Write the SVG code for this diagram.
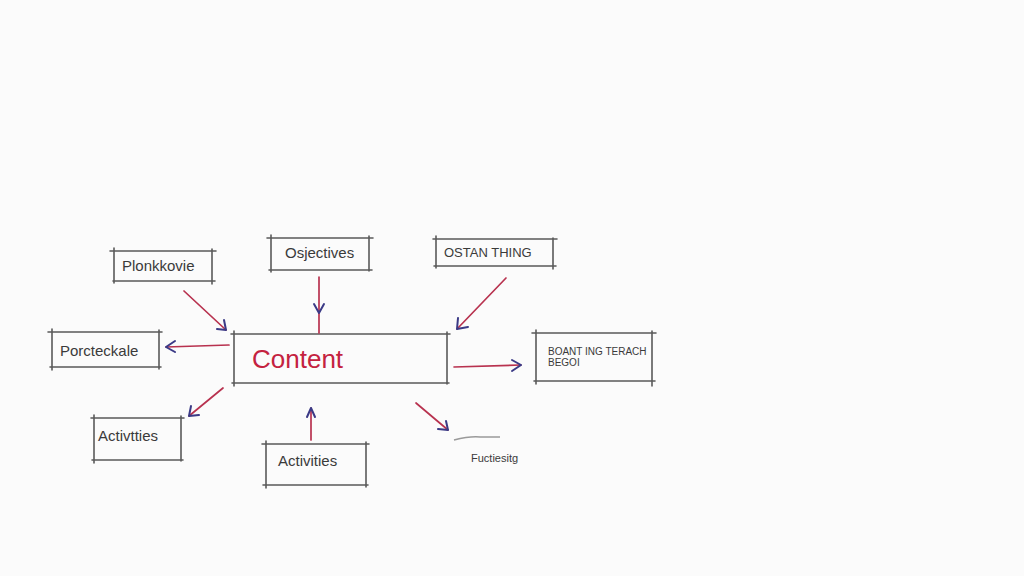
<svg xmlns="http://www.w3.org/2000/svg" width="1024" height="576" viewBox="0 0 1024 576">
<defs>
<style>
.box{fill:none;stroke:#5a5a5a;stroke-width:1.6;stroke-linecap:round}
.t{font-family:"Liberation Sans",Arial,sans-serif;fill:#3a3a3a}
.ln{fill:none;stroke:#b8324f;stroke-width:1.7;stroke-linecap:round}
.hd{fill:none;stroke:#3b3a86;stroke-width:2;stroke-linecap:round;stroke-linejoin:round}
</style>
</defs>
<rect width="1024" height="576" fill="#fbfbfb"/>
<g id="n-plonkkovie">
<path class="box" d="M110 251 H216 M113 281 H215 M114 248 V283 M212 249 V284"/>
<text class="t" x="122" y="271" font-size="15">Plonkkovie</text>
</g>
<g id="n-objectives">
<path class="box" d="M267 238 H373 M269 270 H372 M271 235 V272 M369 236 V271"/>
<text class="t" x="285" y="258" font-size="15">Osjectives</text>
</g>
<g id="n-ostan">
<path class="box" d="M433 239 H557 M434 266 H556 M436 236 V268 M553 238 V269"/>
<text class="t" x="444" y="257" font-size="13">OSTAN THING</text>
</g>
<g id="n-content">
<path class="box" d="M231 334 H450 M232 383 H449 M234 331 V386 M447 332 V384"/>
<text x="252" y="368" font-size="26" font-family="'Liberation Sans',Arial,sans-serif" fill="#c4223f">Content</text>
</g>
<g id="n-porcteckale">
<path class="box" d="M48 332 H162 M50 367 H161 M52 329 V370 M159 330 V369"/>
<text class="t" x="60" y="356" font-size="15">Porcteckale</text>
</g>
<g id="n-boant">
<path class="box" d="M532 333 H656 M534 381 H655 M536 330 V384 M652 331 V386"/>
<text class="t" x="548" y="355" font-size="10">BOANT ING TERACH</text>
<text class="t" x="548" y="366" font-size="10">BEGOI</text>
</g>
<g id="n-activtties">
<path class="box" d="M91 418 H184 M92 460 H183 M94 415 V463 M181 416 V461"/>
<text class="t" x="98" y="441" font-size="15">Activtties</text>
</g>
<g id="n-activities">
<path class="box" d="M262 444 H369 M263 485 H368 M266 441 V488 M366 442 V487"/>
<text class="t" x="278" y="466" font-size="15">Activities</text>
</g>
<g id="n-fuctiesitg">
<path d="M454 440 Q470 436 480 437 L500 437" fill="none" stroke="#9a9a9a" stroke-width="1.4"/>
<text class="t" x="471" y="462" font-size="11">Fuctiesitg</text>
</g>
<g id="connectors">
<path class="ln" d="M184 291 L226 330"/>
<path class="hd" d="M217 329 L226 330 L224 320"/>
<path class="ln" d="M319 277 V333"/>
<path class="hd" d="M314 304 L319 313 L324 304"/>
<path class="ln" d="M506 278 L457 329"/>
<path class="hd" d="M458 318 L457 329 L468 327"/>
<path class="ln" d="M229 345 L166 347"/>
<path class="hd" d="M175 341 L166 347 L175 352"/>
<path class="ln" d="M454 367 L521 365"/>
<path class="hd" d="M512 360 L521 365 L512 371"/>
<path class="ln" d="M223 388 L189 416"/>
<path class="hd" d="M191 406 L189 416 L199 415"/>
<path class="ln" d="M311 440 V408"/>
<path class="hd" d="M307 417 L311 408 L315 417"/>
<path class="ln" d="M416 403 L448 430"/>
<path class="hd" d="M438 429 L448 430 L446 421"/>
</g>
</svg>
